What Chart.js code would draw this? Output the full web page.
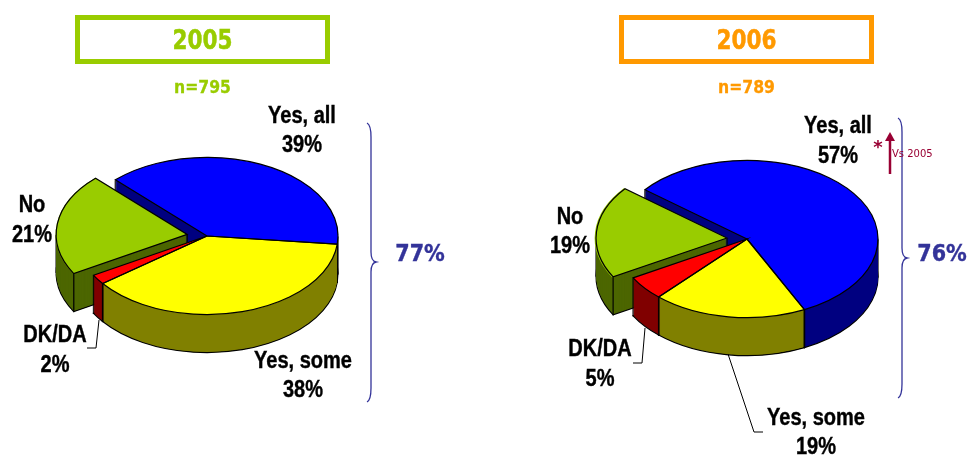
<!DOCTYPE html>
<html>
<head>
<meta charset="utf-8">
<style>
  html, body { margin: 0; padding: 0; background: #fff; overflow: hidden; }
  canvas { position: absolute; left: 0; top: 0; }
</style>
<script src="https://cdn.jsdelivr.net/npm/chart.js@4/dist/chart.umd.js"></script>
</head>
<body>
<canvas id="pie2005" width="970" height="455"></canvas>
<canvas id="pie2006" width="970" height="455"></canvas>
<script>
const categories = ['Yes, all', 'Yes, some', 'DK/DA', 'No']
const values2005 = [39, 38, 2, 21]
const values2006 = [57, 19, 5, 19]
const faceColors = ['#0000ff', '#ffff00', '#ff0000', '#99cc00']
const sideColors = ['#000080', '#808000', '#800000', '#4c6600']
const explode = [0, 0, 0, 80] // arc draws offset / 4

const SQUASH = 0.6
const DEPTH = 38
const NAVY = '#333399'
const CRIMSON = '#990033'

// 3d look: the arcs stay chart.js elements, the plugin flattens them and stacks darker copies below
const tracePath = (ctx, arc, dy) => {
  const off = (arc.options.offset || 0) / 4
  const mid = (arc.startAngle + arc.endAngle) / 2
  const cx = arc.x + Math.cos(mid) * off
  const cy = arc.y + Math.sin(mid) * off
  ctx.save()
  ctx.translate(0, dy)
  ctx.translate(arc.x, arc.y)
  ctx.scale(1, SQUASH)
  ctx.translate(-arc.x, -arc.y)
  ctx.beginPath()
  ctx.moveTo(cx, cy)
  ctx.arc(cx, cy, arc.outerRadius, arc.startAngle, arc.endAngle)
  ctx.closePath()
  ctx.restore()
}

const edgePoints = (arc) => {
  const off = (arc.options.offset || 0) / 4
  const mid = (arc.startAngle + arc.endAngle) / 2
  const cx = arc.x + Math.cos(mid) * off
  const cy = arc.y + Math.sin(mid) * off
  const pts = []
  const angles = [arc.startAngle, arc.endAngle]
  // silhouette of the ellipse, left and right
  for (let a = -2 * Math.PI; a <= 4 * Math.PI; a += Math.PI) {
    if (a > arc.startAngle && a < arc.endAngle) angles.push(a)
  }
  angles.forEach(a => {
    pts.push([cx + Math.cos(a) * arc.outerRadius, arc.y + (cy - arc.y + Math.sin(a) * arc.outerRadius) * SQUASH])
  })
  pts.push([cx, arc.y + (cy - arc.y) * SQUASH])
  return pts
}

const pie3d = {
  id: 'pie3d',
  beforeDatasetsDraw(chart) {
    const { ctx } = chart
    const arcs = chart.getDatasetMeta(0).data
    ctx.save()
    for (let d = DEPTH; d > 0; d--) {
      arcs.forEach((arc, i) => {
        tracePath(ctx, arc, d)
        ctx.fillStyle = sideColors[i]
        ctx.fill()
        if (d === DEPTH) {
          ctx.strokeStyle = '#000'
          ctx.lineWidth = 1.2
          ctx.stroke()
        }
      })
      ctx.fillStyle = '#000'
      arcs.forEach(arc => {
        edgePoints(arc).forEach(p => ctx.fillRect(p[0] - 0.7, p[1] + d - 0.5, 1.4, 1))
      })
    }
    ctx.restore()
    // top faces, drawn by the chart under this transform
    const a = arcs[0]
    ctx.save()
    ctx.translate(a.x, a.y)
    ctx.scale(1, SQUASH)
    ctx.translate(-a.x, -a.y)
  },
  afterDatasetsDraw(chart) {
    const { ctx } = chart
    ctx.restore()
    ctx.save()
    ctx.strokeStyle = '#000'
    ctx.lineWidth = 1.2
    chart.getDatasetMeta(0).data.forEach(arc => {
      tracePath(ctx, arc, 0)
      ctx.stroke()
    })
    ctx.restore()
  }
}

// squeeze narrows the glyphs, the reference uses condensed faces that are not installed here
const drawText = (ctx, text, x, y, font, color, align, squeeze, weight) => {
  const sx = squeeze || 1
  ctx.save()
  ctx.translate(x, y)
  ctx.scale(sx, 1)
  ctx.font = font
  ctx.fillStyle = color
  ctx.textAlign = align || 'center'
  ctx.textBaseline = 'alphabetic'
  ctx.fillText(text, 0, 0)
  if (weight) {
    ctx.strokeStyle = color
    ctx.lineWidth = weight
    ctx.strokeText(text, 0, 0)
  }
  ctx.restore()
}

const drawPolyline = (ctx, pts) => {
  ctx.beginPath()
  pts.forEach((p, i) => (i ? ctx.lineTo(p[0], p[1]) : ctx.moveTo(p[0], p[1])))
  ctx.stroke()
}

const drawBrace = (ctx, x, top, tip, bottom) => {
  ctx.strokeStyle = NAVY
  ctx.lineWidth = 1.3
  ctx.beginPath()
  ctx.moveTo(x - 4, top)
  ctx.quadraticCurveTo(x, top + 2, x, top + 14)
  ctx.lineTo(x, tip - 10)
  ctx.quadraticCurveTo(x, tip - 1, x + 5, tip)
  ctx.quadraticCurveTo(x, tip + 1, x, tip + 10)
  ctx.lineTo(x, bottom - 14)
  ctx.quadraticCurveTo(x, bottom - 2, x - 4, bottom)
  ctx.stroke()
}

const LABEL_FONT = 'bold 23px "Liberation Sans", sans-serif'
const HEAD_FONT = 'bold 26px "DejaVu Sans", sans-serif'
const N_FONT = 'bold 17px "DejaVu Sans", sans-serif'
const TOTAL_FONT = 'bold 23px "DejaVu Sans", sans-serif'

const annotations = {
  id: 'annotations',
  afterDraw(chart, args, o) {
    const { ctx } = chart
    const vals = chart.data.datasets[0].data
    ctx.save()

    ctx.strokeStyle = o.color
    ctx.lineWidth = 5
    ctx.strokeRect(o.box[0], o.box[1], o.box[2], o.box[3])
    drawText(ctx, o.year, o.box[0] + o.box[2] / 2, 49, HEAD_FONT, o.color, 'center', 0.83, 0.5)
    drawText(ctx, o.n, o.box[0] + o.box[2] / 2, o.nY, N_FONT, o.color, 'center', 0.92, 0.3)

    o.labels.forEach((l, i) => {
      drawText(ctx, categories[i], l[0], l[1], LABEL_FONT, '#000', 'center', 0.87, 0.4)
      drawText(ctx, vals[i] + '%', l[0], l[2], LABEL_FONT, '#000', 'center', 0.87, 0.4)
    })

    ctx.strokeStyle = '#000'
    ctx.lineWidth = 1
    o.leaders.forEach(pts => drawPolyline(ctx, pts))

    drawBrace(ctx, o.brace[0], o.brace[1], o.brace[2], o.brace[3])
    drawText(ctx, o.total, o.totalX, 261, TOTAL_FONT, NAVY, 'center', 0.9, 0.4)

    if (o.note) {
      ctx.strokeStyle = CRIMSON
      ctx.lineWidth = 2.5
      drawPolyline(ctx, [[890, 174], [890, 140]])
      ctx.fillStyle = CRIMSON
      ctx.beginPath()
      ctx.moveTo(890, 132)
      ctx.lineTo(895, 141)
      ctx.lineTo(885, 141)
      ctx.closePath()
      ctx.fill()
      drawText(ctx, '*', 878, 153, 'bold 18px "DejaVu Sans", sans-serif', CRIMSON)
      drawText(ctx, o.note, 892, 157, '10px "DejaVu Sans", sans-serif', CRIMSON, 'left')
    }
    ctx.restore()
  }
}

const makeChart = (id, values, rotation, padding, notes) => new Chart(document.getElementById(id), {
  type: 'pie',
  data: {
    labels: categories,
    datasets: [{
      data: values,
      backgroundColor: faceColors,
      borderWidth: 0,
      offset: explode,
      clip: false
    }]
  },
  options: {
    responsive: false,
    animation: false,
    events: [],
    rotation,
    radius: 131,
    layout: { padding },
    plugins: {
      legend: { display: false },
      tooltip: { enabled: false },
      annotations: notes
    }
  },
  plugins: [pie3d, annotations]
})

makeChart('pie2005', values2005, -44.4, { right: 556, top: 17 }, {
  year: '2005',
  n: 'n=795',
  nY: 93,
  color: '#99cc00',
  box: [77.5, 17.5, 250, 44],
  labels: [[302, 123, 152], [303, 368, 397], [55, 342, 372], [32, 212, 242]],
  leaders: [[[99, 320], [96, 348], [87, 348]]],
  brace: [371, 123, 262, 402],
  total: '77%',
  totalX: 420
})

makeChart('pie2006', values2006, -51.2, { left: 524, top: 23 }, {
  year: '2006',
  n: 'n=789',
  nY: 93,
  color: '#ff9900',
  box: [621.5, 17.5, 250, 44],
  labels: [[838, 133, 163], [816, 425, 454], [600, 356, 386], [570, 224, 253]],
  leaders: [[[645, 328], [642, 363], [633, 363]], [[728, 354], [754, 432], [763, 432]]],
  brace: [902, 118, 258, 398],
  total: '76%',
  totalX: 942,
  note: 'Vs 2005'
})
</script>
</body>
</html>
